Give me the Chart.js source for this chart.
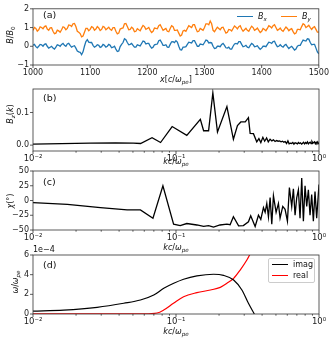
<!DOCTYPE html>
<html lang="en">
<head>
<meta charset="UTF-8">
<title>Field, spectrum, angle and growth rate</title>
<script src="https://cdn.jsdelivr.net/npm/chart.js"></script>
<style>
    body { margin: 0; background: #fff; }
    #fig { position: relative; width: 332px; height: 339px; font-family: "DejaVu Sans", sans-serif; color: #111; }
    #fig canvas { position: absolute; left: 0; top: 0; }
    .t { position: absolute; font-size: 8px; white-space: nowrap; line-height: 1; transform: translate(-50%, -50%); }
    .rot { transform: translate(-50%, -50%) rotate(-90deg); }
    .lab { font-size: 9.5px; transform: translate(0, -50%); }
    .t sub { font-size: 70%; vertical-align: -0.3em; line-height: 0; }
    .seg { position: absolute; height: 0; }
    #legd { position: absolute; left: 268px; top: 258px; width: 47px; height: 25px; border: 1px solid #ccc; border-radius: 2px; background: rgba(255,255,255,0.85); box-sizing: border-box; }
</style>
</head>
<body>
<div id="fig">
    <canvas id="pa" width="332" height="339"></canvas>
    <canvas id="pb" width="332" height="339"></canvas>
    <canvas id="pc" width="332" height="339"></canvas>
    <canvas id="pd" width="332" height="339"></canvas>

    <!-- panel labels -->
    <div class="t lab" style="left:43px;top:15px">(a)</div>
    <div class="t lab" style="left:43px;top:98px">(b)</div>
    <div class="t lab" style="left:43px;top:182px">(c)</div>
    <div class="t lab" style="left:43px;top:265px">(d)</div>

    <!-- axis titles -->
    <div class="t rot" style="left:11px;top:35px"><i>B</i>/<i>B</i><sub>0</sub></div>
    <div class="t" style="left:176px;top:80px"><i>x</i>[<i>c</i>/<i>ω</i><sub><i>pe</i></sub>]</div>
    <div class="t rot" style="left:11px;top:114px"><i>B</i><sub><i>z</i></sub>(<i>k</i>)</div>
    <div class="t" style="left:176px;top:162px"><i>kc</i>/<i>ω</i><sub><i>pe</i></sub></div>
    <div class="t rot" style="left:11px;top:201px"><i>χ</i>(°)</div>
    <div class="t" style="left:176px;top:248px"><i>kc</i>/<i>ω</i><sub><i>pe</i></sub></div>
    <div class="t rot" style="left:16px;top:282px"><i>ω</i>/<i>ω</i><sub><i>pe</i></sub></div>
    <div class="t" style="left:176px;top:332px"><i>kc</i>/<i>ω</i><sub><i>pe</i></sub></div>
    <div class="t" style="left:33px;top:250px;transform:translate(0,-50%)">1e−4</div>

    <!-- legend (a) -->
    <div class="seg" style="left:237px;top:16px;width:16px;border-top:1.3px solid #1f77b4"></div>
    <div class="t" style="left:258px;top:17px;transform:translate(0,-50%)"><i>B</i><sub><i>x</i></sub></div>
    <div class="seg" style="left:281px;top:16px;width:16px;border-top:1.3px solid #ff7f0e"></div>
    <div class="t" style="left:302px;top:17px;transform:translate(0,-50%)"><i>B</i><sub><i>y</i></sub></div>

    <!-- legend (d) -->
    <div id="legd"></div>
    <div class="seg" style="left:272px;top:264px;width:16px;border-top:1.3px solid #000"></div>
    <div class="t" style="left:293px;top:265px;transform:translate(0,-50%)">imag</div>
    <div class="seg" style="left:272px;top:275px;width:16px;border-top:1.3px solid #ff0000"></div>
    <div class="t" style="left:293px;top:276px;transform:translate(0,-50%)">real</div>
</div>

<script>
    // ---- panel (a): field profiles ----
    const xPos = [1000,1002.5,1005,1007.5,1010,1012.5,1015,1017.5,1020,1022.5,1025,1027.5,1030,1032.5,1035,1037.5,1040,1042.5,1045,1047.5,
                  1050,1052.5,1055,1057.5,1060,1062.5,1065,1067.5,1070,1072.5,1075,1077.5,1080,1082.5,1085,1087.5,1090,1092.5,1095,1097.5,
                  1100,1102.5,1105,1107.5,1110,1112.5,1115,1117.5,1120,1122.5,1125,1127.5,1130,1132.5,1135,1137.5,1140,1142.5,1145,1147.5,
                  1150,1152.5,1155,1157.5,1160,1162.5,1165,1167.5,1170,1172.5,1175,1177.5,1180,1182.5,1185,1187.5,1190,1192.5,1195,1197.5,
                  1200,1202.5,1205,1207.5,1210,1212.5,1215,1217.5,1220,1222.5,1225,1227.5,1230,1232.5,1235,1237.5,1240,1242.5,1245,1247.5,
                  1250,1252.5,1255,1257.5,1260,1262.5,1265,1267.5,1270,1272.5,1275,1277.5,1280,1282.5,1285,1287.5,1290,1292.5,1295,1297.5,
                  1300,1302.5,1305,1307.5,1310,1312.5,1315,1317.5,1320,1322.5,1325,1327.5,1330,1332.5,1335,1337.5,1340,1342.5,1345,1347.5,
                  1350,1352.5,1355,1357.5,1360,1362.5,1365,1367.5,1370,1372.5,1375,1377.5,1380,1382.5,1385,1387.5,1390,1392.5,1395,1397.5,
                  1400,1402.5,1405,1407.5,1410,1412.5,1415,1417.5,1420,1422.5,1425,1427.5,1430,1432.5,1435,1437.5,1440,1442.5,1445,1447.5,
                  1450,1452.5,1455,1457.5,1460,1462.5,1465,1467.5,1470,1472.5,1475,1477.5,1480,1482.5,1485,1487.5,1490,1492.5,1495,1497.5,
                  1500];
    const bxVals = [0.05,0.1,-0.02,-0.08,0.0,0.1,0.08,0.0,0.1,0.13,0.0,-0.1,-0.05,0.0,-0.1,-0.15,-0.05,0.08,0.05,0.0,
                    0.1,0.15,0.05,0.0,0.12,0.16,0.05,-0.05,0.0,0.03,-0.1,-0.25,-0.3,-0.32,-0.45,-0.3,0.0,0.25,0.35,0.22,
                    0.2,0.2,0.05,-0.05,0.0,0.08,0.05,-0.06,-0.02,0.1,0.05,-0.05,0.0,0.1,0.05,-0.08,-0.05,0.0,-0.15,-0.28,
                    -0.25,-0.02,0.1,0.2,0.4,0.35,0.2,0.08,0.1,0.15,0.05,-0.05,-0.05,0.08,0.05,0.02,0.15,0.28,0.25,0.12,
                    0.15,0.15,0.0,-0.1,-0.05,0.08,0.1,0.12,0.3,0.33,0.2,0.05,0.05,0.08,-0.05,-0.06,0.1,0.24,0.25,0.2,
                    0.3,0.22,0.0,-0.18,-0.2,-0.05,-0.05,-0.02,0.1,0.22,0.2,0.18,0.3,0.3,0.15,0.0,0.0,0.12,0.1,0.08,
                    0.2,0.33,0.3,0.18,0.2,0.18,0.0,-0.12,-0.1,0.0,0.0,-0.02,0.1,0.15,0.05,-0.08,-0.1,-0.05,-0.15,-0.15,
                    0.0,0.12,0.15,0.12,0.25,0.25,0.1,-0.02,0.0,0.05,-0.05,-0.08,0.05,0.15,0.1,-0.02,0.0,0.03,-0.08,-0.16,
                    -0.1,0.0,0.0,-0.02,0.1,0.22,0.2,0.15,0.25,0.27,0.1,-0.02,0.0,0.08,0.0,-0.05,0.05,0.1,-0.02,-0.12,
                    -0.05,0.0,-0.1,-0.2,-0.15,0.0,0.05,0.05,0.2,0.33,0.3,0.28,0.4,0.38,0.2,0.08,0.1,0.1,-0.1,-0.3,
                    -0.4];
    const byVals = [0.85,1.0,0.95,0.81,0.88,1.04,1.0,0.93,1.05,1.09,0.92,0.85,0.98,0.99,0.8,0.67,0.7,0.86,0.82,0.75,
                    0.88,1.04,1.0,0.88,0.95,1.14,1.12,1.06,1.2,1.22,1.05,0.8,0.75,0.68,0.5,0.55,0.75,0.95,0.95,0.83,
                    0.9,1.05,1.0,0.86,0.92,1.05,0.98,0.84,0.9,1.06,1.02,0.88,0.95,1.02,0.9,0.85,1.0,1.0,0.8,0.66,
                    0.7,0.92,0.95,0.98,1.2,1.22,1.05,0.88,0.9,1.02,0.95,0.78,0.8,0.94,0.88,0.83,0.98,1.11,1.05,0.9,
                    0.95,1.0,0.85,0.73,0.8,0.97,0.95,0.93,1.1,1.15,1.0,0.85,0.9,0.95,0.8,0.78,0.95,1.1,1.05,0.85,
                    0.85,0.87,0.7,0.55,0.6,0.82,0.85,0.8,0.95,1.1,1.05,1.0,1.15,1.15,0.95,0.78,0.8,0.95,0.9,0.85,
                    1.0,1.2,1.2,1.15,1.35,1.2,0.85,0.78,0.9,1.02,0.95,0.88,1.0,1.02,0.85,0.7,0.75,0.9,0.88,0.82,
                    0.95,1.08,1.02,0.93,1.05,1.1,0.92,0.8,0.88,0.96,0.85,0.8,0.95,1.07,1.0,0.85,0.9,0.97,0.85,0.73,
                    0.8,0.95,0.9,0.83,0.95,1.1,1.05,0.98,1.1,1.15,1.0,0.85,0.9,0.97,0.85,0.8,0.92,1.03,0.95,0.83,
                    0.9,0.94,0.78,0.66,0.7,0.9,0.9,0.88,1.05,1.2,1.15,1.0,1.05,1.12,1.0,0.9,1.0,1.05,0.9,0.75,
                    0.75];

    // ---- panel (b): spectrum ----
    const specK = [0.01,0.0126,0.0251,0.0377,0.0503,0.0565,0.068,0.078,0.094,0.119,
                   0.148,0.156,0.169,0.181,0.195,0.227,0.252,0.269,0.284,0.305,
                   0.321,0.330,0.348,0.367,
                   0.38,0.392,0.405,0.417,0.43,0.442,0.455,0.468,0.48,0.493,
                   0.505,0.518,0.53,0.543,0.556,0.568,0.58,0.593,0.606,0.618,
                   0.63,0.643,0.656,0.668,0.68,0.693,0.706,0.718,0.73,0.743,
                   0.756,0.768,0.78,0.793,0.806,0.818,0.83,0.843,0.856,0.868,
                   0.88,0.893,0.906,0.918,0.93,0.943,0.956,0.968,0.98,0.993,1.0];
    const specVals = [0.003,0.004,0.006,0.007,0.006,0.005,0.023,0.008,0.057,0.030,
                      0.079,0.044,0.044,0.160,0.040,0.118,0.018,0.060,0.071,0.071,
                      0.084,0.036,0.035,0.010,
                      0.020,0.008,0.024,0.012,0.022,0.010,0.018,0.013,0.016,0.011,
                      0.014,0.012,0.013,0.010,0.012,0.009,0.011,0.005,0.013,0.004,
                      0.006,0.005,0.008,0.003,0.007,0.006,0.004,0.008,0.005,0.007,
                      0.003,0.006,0.009,0.004,0.008,0.005,0.010,0.004,0.007,0.009,
                      0.005,0.011,0.006,0.008,0.010,0.004,0.009,0.006,0.010,0.005,0.007];

    // ---- panel (c): angle ----
    const angK = [0.01,0.0174,0.0296,0.0455,0.0564,0.069,0.081,0.0962,0.107,0.119,
                  0.140,0.156,0.169,0.183,0.203,0.227,0.239,0.252,0.274,0.296,
                  0.321,0.333,0.3577,0.3772,0.3917,0.4088,0.42,0.4314,0.4431,0.4551,
                  0.4675,0.4802,0.5012,0.5203,0.5344,0.5579,0.5792,0.6014,0.6209,0.6446,
                  0.6621,0.6803,0.6988,0.7177,0.7369,0.7571,0.7777,0.7987,0.8204,0.8427,
                  0.8655,0.8889,0.9132,0.9378,0.9632,1.0];
    const angVals = [-3.7,-6.5,-12,-16,-16,-30,25,-40,-42.6,-39,
                     -41.5,-43.8,-42.6,-45,-41.5,-40,-41,-27.4,-43,-42.6,
                     -36,-25.7,-44,-25,-32,-12,-20,-5,-28,5,
                     -40,8,-20,-5,-30,-10,-15,-35,22,-10,
                     20,-25,5,18,-30,38,-35,25,-10,18,
                     -25,10,-35,15,-30,27];

    // ---- panel (d): dispersion ----
    const imagK = [0.01,0.0164,0.0281,0.0431,0.0564,0.0699,0.0821,0.0964,0.113,0.140,0.183,0.215,0.253,0.289,0.321,0.353];
    const imagVals = [0.3e-4,0.4e-4,0.68e-4,1.09e-4,1.42e-4,1.93e-4,2.61e-4,3.12e-4,3.53e-4,3.87e-4,4.04e-4,3.93e-4,3.46e-4,2.44e-4,1.09e-4,0];
    const realK = [0.01,0.03,0.06,0.0737,0.082,0.096,0.113,0.14,0.174,0.204,0.227,0.253,0.281,0.313,0.333,0.345];
    const realVals = [0.02e-4,0.02e-4,0.02e-4,0.1e-4,0.4e-4,1.09e-4,1.76e-4,2.17e-4,2.44e-4,2.71e-4,3.12e-4,3.63e-4,4.47e-4,5.49e-4,6.24e-4,6.8e-4];

    // tick values for the log axes
    const logTicks = [0.01,0.02,0.03,0.04,0.05,0.06,0.07,0.08,0.09,
                      0.1,0.2,0.3,0.4,0.5,0.6,0.7,0.8,0.9,1];
    const logLabels = {0.01: '10⁻²', 0.1: '10⁻¹', 1: '10⁰'};

    const pts = (xs, ys) => xs.map((x, i) => ({x: x, y: ys[i]}));
    const minus = v => (v < 0 ? '−' + Math.abs(v) : '' + v);
    const tickFont = {family: 'DejaVu Sans', size: 8};

    // frame + outward tick marks, matplotlib style
    const framePlugin = {
        id: 'frame',
        afterDraw(chart) {
            const ctx = chart.ctx, a = chart.chartArea;
            const sx = chart.scales.x, sy = chart.scales.y;
            ctx.save();
            ctx.strokeStyle = '#333';
            ctx.lineWidth = 0.8;
            ctx.strokeRect(a.left, a.top, a.right - a.left, a.bottom - a.top);
            ctx.beginPath();
            sx.ticks.forEach(t => {
                const px = sx.getPixelForValue(t.value);
                let len = 3;
                if (sx.type === 'logarithmic') {
                    const lg = Math.log10(t.value);
                    len = Math.abs(lg - Math.round(lg)) < 1e-6 ? 3 : 1.7;
                }
                ctx.moveTo(px, a.bottom);
                ctx.lineTo(px, a.bottom + len);
            });
            sy.ticks.forEach(t => {
                const py = sy.getPixelForValue(t.value);
                ctx.moveTo(a.left, py);
                ctx.lineTo(a.left - 3, py);
            });
            ctx.stroke();
            ctx.restore();
        }
    };

    function makePanel(id, top, bottom, xScale, yScale, datasets) {
        xScale.afterFit = s => { s.height = 339 - bottom; };
        yScale.afterFit = s => { s.width = 33; };
        xScale.grid = {display: false, drawTicks: false};
        yScale.grid = {display: false, drawTicks: false};
        xScale.border = {display: false};
        yScale.border = {display: false};
        xScale.ticks = Object.assign({font: tickFont, color: '#222', padding: 3, maxRotation: 0, autoSkip: false}, xScale.ticks);
        yScale.ticks = Object.assign({font: tickFont, color: '#222', padding: 4, autoSkip: false}, yScale.ticks);
        return new Chart(document.getElementById(id), {
            type: 'line',
            data: {datasets: datasets},
            options: {
                responsive: false,
                animation: false,
                layout: {padding: {left: 0, right: 13, top: top, bottom: 0}},
                elements: {point: {radius: 0}},
                plugins: {legend: {display: false}, tooltip: {enabled: false}},
                scales: {x: xScale, y: yScale}
            },
            plugins: [framePlugin]
        });
    }

    function logAxis() {
        return {
            type: 'logarithmic', min: 0.01, max: 1,
            afterBuildTicks: s => { s.ticks = logTicks.map(v => ({value: v})); },
            ticks: {callback: v => logLabels[v] || '', font: {family: 'DejaVu Sans', size: 8.5}}
        };
    }

    makePanel('pa', 5, 65,
        {type: 'linear', min: 1000, max: 1500, ticks: {stepSize: 100, callback: v => '' + v}},
        {type: 'linear', min: -1, max: 2, ticks: {stepSize: 1, callback: minus}},
        [
            {data: pts(xPos, bxVals), borderColor: '#1f77b4', borderWidth: 1.3},
            {data: pts(xPos, byVals), borderColor: '#ff7f0e', borderWidth: 1.3}
        ]);

    makePanel('pb', 89, 151,
        logAxis(),
        {type: 'linear', min: -0.018, max: 0.172,
         afterBuildTicks: s => { s.ticks = [{value: 0}, {value: 0.1}]; },
         ticks: {callback: v => v.toFixed(1)}},
        [{data: pts(specK, specVals), borderColor: '#000', borderWidth: 1.3}]);

    makePanel('pc', 171, 230,
        logAxis(),
        {type: 'linear', min: -50, max: 50, ticks: {stepSize: 25, callback: minus}},
        [{data: pts(angK, angVals), borderColor: '#000', borderWidth: 1.3}]);

    makePanel('pd', 255, 314,
        logAxis(),
        {type: 'linear', min: 0, max: 6e-4, ticks: {stepSize: 2e-4, callback: v => '' + Math.round(v / 1e-4)}},
        [
            {data: pts(imagK, imagVals), borderColor: '#000', borderWidth: 1.2, cubicInterpolationMode: 'monotone'},
            {data: pts(realK, realVals), borderColor: '#ff0000', borderWidth: 1.2, cubicInterpolationMode: 'monotone'}
        ]);
</script>
</body>
</html>
